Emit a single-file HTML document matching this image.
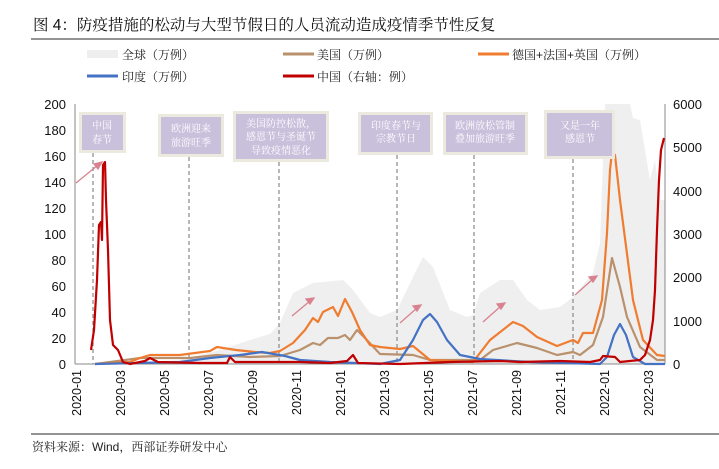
<!DOCTYPE html>
<html><head><meta charset="utf-8"><style>
html,body{margin:0;padding:0;background:#fff;}
svg text{font-family:"Liberation Sans","Noto Serif CJK SC","Noto Sans CJK SC",sans-serif;}
</style></head><body>
<svg width="719" height="464" viewBox="0 0 719 464" xmlns="http://www.w3.org/2000/svg">
<text x="33" y="30" font-size="15.5" fill="#111" style="font-family:'Liberation Sans','Noto Serif CJK SC',serif">图 4：防疫措施的松动与大型节假日的人员流动造成疫情季节性反复</text>
<line x1="31" y1="39" x2="719" y2="39" stroke="#555" stroke-width="1.2"/>
<g font-size="12" fill="#222" style="font-family:'Liberation Sans','Noto Serif CJK SC',serif">
<rect x="87" y="50" width="31" height="8" fill="#eeeeee"/><text x="122" y="59">全球（万例）</text>
<line x1="283" y1="54" x2="314" y2="54" stroke="#b9916d" stroke-width="3"/><text x="317" y="59">美国（万例）</text>
<line x1="478" y1="54" x2="509" y2="54" stroke="#ef7c30" stroke-width="3"/><text x="512" y="59">德国+法国+英国（万例）</text>
<line x1="87" y1="76" x2="118" y2="76" stroke="#4472c4" stroke-width="3"/><text x="122" y="81">印度（万例）</text>
<line x1="283" y1="76" x2="314" y2="76" stroke="#c00000" stroke-width="3"/><text x="317" y="81">中国（右轴：例）</text>
</g>
<!-- gray area -->
<path fill="#efefef" d="M93,364 L140,362 L180,360 L220,350 L250,340 L270,334 L280,323 L293,293 L313,283 L343,280 L353,290 L370,313 L380,317 L397,310 L413,277 L423,257 L433,267 L450,310 L467,317 L473,315 L480,293 L500,280 L513,280 L527,300 L540,310 L560,307 L573,297 L593,273 L600,243 L605,104 L630,104 L633,118 L640,120 L645,150 L650,180 L655,160 L660,200 L665,200 L665,364 Z"/>
<!-- dashed lines -->
<g stroke="#888" stroke-width="1.2" stroke-dasharray="4,3">
<line x1="93" y1="153" x2="93" y2="364"/><line x1="189" y1="157" x2="189" y2="364"/><line x1="279" y1="162" x2="279" y2="364"/>
<line x1="397" y1="155" x2="397" y2="364"/><line x1="474" y1="155" x2="474" y2="364"/><line x1="573" y1="159" x2="573" y2="364"/>
</g>
<!-- axes -->
<g stroke="#888" stroke-width="1">
<line x1="75" y1="104" x2="75" y2="364"/><line x1="75" y1="364" x2="665" y2="364"/><line x1="665" y1="104" x2="665" y2="364"/>
</g>
<g font-size="13" fill="#111" text-anchor="end">
<text x="66" y="109">200</text><text x="66" y="135">180</text><text x="66" y="161">160</text><text x="66" y="187">140</text><text x="66" y="213">120</text><text x="66" y="239">100</text><text x="66" y="265">80</text><text x="66" y="291">60</text><text x="66" y="317">40</text><text x="66" y="343">20</text><text x="66" y="369">0</text>
</g>
<g font-size="13" fill="#111">
<text x="673" y="109">6000</text><text x="673" y="152">5000</text><text x="673" y="196">4000</text><text x="673" y="239">3000</text><text x="673" y="282">2000</text><text x="673" y="326">1000</text><text x="673" y="369">0</text>
</g>
<g font-size="12.5" fill="#111" text-anchor="end">
<text transform="translate(81,370) rotate(-90)">2020-01</text>
<text transform="translate(125,370) rotate(-90)">2020-03</text>
<text transform="translate(169,370) rotate(-90)">2020-05</text>
<text transform="translate(213,370) rotate(-90)">2020-07</text>
<text transform="translate(257,370) rotate(-90)">2020-09</text>
<text transform="translate(301,370) rotate(-90)">2020-11</text>
<text transform="translate(345,370) rotate(-90)">2021-01</text>
<text transform="translate(389,370) rotate(-90)">2021-03</text>
<text transform="translate(433,370) rotate(-90)">2021-05</text>
<text transform="translate(477,370) rotate(-90)">2021-07</text>
<text transform="translate(521,370) rotate(-90)">2021-09</text>
<text transform="translate(565,370) rotate(-90)">2021-11</text>
<text transform="translate(609,370) rotate(-90)">2022-01</text>
<text transform="translate(653,370) rotate(-90)">2022-03</text>
</g>
<g fill="none" stroke-width="2.2" stroke-linejoin="round">
<path stroke="#b9916d" d="M95,364 L140,358 L190,358 L217,355 L250,357 L280,356 L300,350 L313,343 L320,345 L328,338 L338,338 L345,335 L350,340 L357,330 L365,338 L380,354 L413,355 L430,360 L480,360 L493,350 L517,343 L537,348 L557,355 L573,352 L580,355 L593,345 L603,317 L612,258 L620,287 L627,317 L640,347 L657,360 L665,360"/>
<path stroke="#ef7c30" d="M95,364 L130,362 L140,358 L150,355 L180,355 L195,353 L210,351 L217,347 L236,350 L255,352 L270,353 L280,351 L293,343 L305,330 L313,318 L318,322 L323,312 L333,307 L338,316 L345,299 L352,312 L360,330 L370,345 L380,347 L400,349 L413,346 L430,360 L473,362 L490,340 L513,322 L523,326 L537,337 L557,346 L573,340 L578,343 L583,333 L593,333 L602,300 L607,233 L610,170 L612,152 L615,155 L620,200 L633,300 L643,340 L657,355 L665,356"/>
<path stroke="#4472c4" d="M95,364 L180,362 L210,358 L240,355 L262,352 L285,356 L300,360 L330,362 L380,364 L400,360 L413,340 L423,320 L430,314 L437,322 L447,340 L460,355 L480,359 L530,362 L600,364 L607,357 L614,335 L620,324 L626,335 L633,357 L645,364 L665,364"/>
<path stroke="#c00000" d="M91,350 L94,330 L97,280 L99,225 L101,222 L102,240 L103,165 L105,162 L106,200 L108,250 L110,320 L113,345 L118,350 L123,362 L130,364 L145,361 L150,358 L158,362 L200,363 L227,363 L230,357 L235,362 L300,362 L330,363 L347,361 L353,355 L358,363 L400,364 L450,362 L500,361 L520,362 L560,361 L590,362 L600,360 L603,356 L615,357 L620,362 L640,360 L645,355 L650,340 L653,320 L655,290 L657,230 L659,180 L661,150 L664,138"/>
</g>
<!-- arrows -->
<g stroke="#d9828f" stroke-width="1.3" fill="#d9828f">
<line x1="76" y1="183" x2="98" y2="165"/><polygon points="102,162 94,164 98,169"/>
<line x1="292" y1="316" x2="310" y2="301"/><polygon points="314,298 306,299 310,304"/>
<line x1="400" y1="323" x2="417" y2="308"/><polygon points="421,305 413,306 417,311"/>
<line x1="483" y1="322" x2="501" y2="306"/><polygon points="505,303 497,304 501,309"/>
<line x1="575" y1="295" x2="593" y2="279"/><polygon points="597,276 589,277 593,282"/>
</g>
<!-- boxes -->
<g fill="#c9c0dc" stroke="#ece9df" stroke-width="3">
<rect x="80.5" y="113.5" width="44" height="38"/>
<rect x="159.5" y="115.5" width="63" height="40"/>
<rect x="234.5" y="112.5" width="93" height="48"/>
<rect x="359.5" y="113.5" width="72" height="40"/>
<rect x="444.5" y="113.5" width="82" height="40"/>
<rect x="545.5" y="111.5" width="68" height="46"/>
</g>
<g font-size="10" fill="#fff" text-anchor="middle" style="font-family:'Noto Serif CJK SC',serif">
<text x="102" y="129">中国</text><text x="102" y="143">春节</text>
<text x="191" y="132">欧洲迎来</text><text x="191" y="146">旅游旺季</text>
<text x="281" y="127">美国防控松散，</text><text x="281" y="140">感恩节与圣诞节</text><text x="281" y="154">导致疫情恶化</text>
<text x="396" y="129">印度春节与</text><text x="396" y="142">宗教节日</text>
<text x="485" y="129">欧洲放松管制</text><text x="485" y="142">叠加旅游旺季</text>
<text x="580" y="129">又是一年</text><text x="580" y="142">感恩节</text>
</g>
<line x1="31" y1="434" x2="719" y2="434" stroke="#555" stroke-width="1.2"/>
<text x="32" y="451" font-size="12" fill="#222" style="font-family:'Liberation Sans','Noto Serif CJK SC',serif">资料来源：Wind，西部证券研发中心</text>
</svg>
</body></html>
